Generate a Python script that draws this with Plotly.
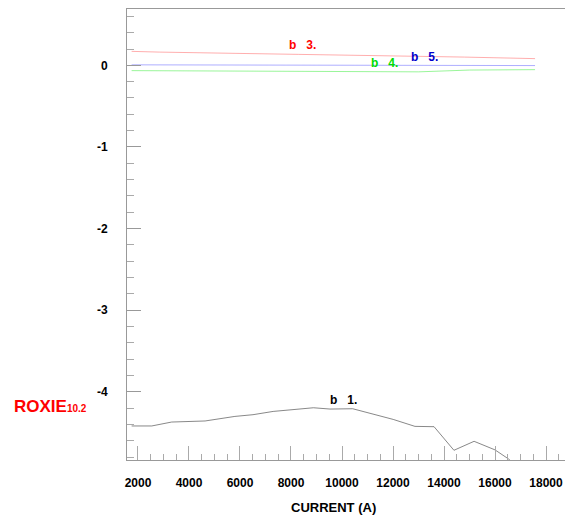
import plotly.graph_objects as go

# b1 curve
b1_x = [1750, 2540, 3320, 4630, 5800, 6510, 7300, 8090, 8880, 9530, 10420, 12010, 12860, 13610, 14390, 15180, 16000, 16520, 17570]
b1_y = [-4.418, -4.418, -4.370, -4.357, -4.301, -4.280, -4.240, -4.220, -4.195, -4.211, -4.207, -4.338, -4.423, -4.427, -4.716, -4.606, -4.711, -4.820, -5.10]

# b3 curve (red)
b3_x = [1750, 2850, 8300, 10900, 13500, 14800, 17570]
b3_y = [0.171, 0.162, 0.134, 0.122, 0.110, 0.101, 0.082]

# b4 curve (green)
b4_x = [1750, 4000, 8000, 11000, 13000, 15000, 17570]
b4_y = [-0.065, -0.068, -0.070, -0.082, -0.080, -0.058, -0.053]

# b5 curve (blue)
b5_x = [1750, 6000, 10000, 14000, 17570]
b5_y = [0.006, 0.004, 0.002, -0.002, -0.003]

labels = ["b\u00a0\u00a0\u00a01.", "b\u00a0\u00a0\u00a03.", "b\u00a0\u00a0\u00a04.", "b\u00a0\u00a0\u00a05."]
label_x = [10040, 8470, 11650, 13220]
label_y = [-4.098, 0.244, 0.033, 0.10]
label_colors = ["#000000", "#ff0000", "#00dd00", "#0000cc"]

y_tickvals = [-4, -3, -2, -1, 0]
y_ticktext = ["-4", "-3", "-2", "-1", "0"]

fig = go.Figure()
fig.add_trace(go.Scatter(x=b1_x, y=b1_y, mode="lines", line=dict(color="#555555", width=0.7)))
fig.add_trace(go.Scatter(x=b3_x, y=b3_y, mode="lines", line=dict(color="#ff7777", width=0.6)))
fig.add_trace(go.Scatter(x=b4_x, y=b4_y, mode="lines", line=dict(color="#55ee55", width=0.6)))
fig.add_trace(go.Scatter(x=b5_x, y=b5_y, mode="lines", line=dict(color="#7777ff", width=0.6)))

for t, x, y, c in zip(labels, label_x, label_y, label_colors):
    fig.add_annotation(x=x, y=y, text="<b>%s</b>" % t, showarrow=False,
                       font=dict(family="Liberation Sans, Arial", size=12, color=c))

fig.add_annotation(xref="paper", yref="paper", x=-0.262, y=0.118, xanchor="left", yanchor="middle",
                   text="<b>ROXIE<span style='font-size:10px'>10.2</span></b>", showarrow=False,
                   font=dict(family="Liberation Sans, Arial", size=17, color="#ff0000"))

fig.add_annotation(xref="paper", yref="paper", x=(333 - 127) / 438, y=-0.105, xanchor="center", yanchor="middle",
                   text="<b>CURRENT (A)</b>", showarrow=False,
                   font=dict(family="Liberation Sans, Arial", size=13, color="black"))

fig.update_layout(
    width=565, height=516,
    margin=dict(l=127, r=0, t=9, b=56),
    paper_bgcolor="white", plot_bgcolor="white",
    showlegend=False,
    font=dict(family="Liberation Sans, Arial", size=12, color="black"),
    xaxis=dict(range=[1569, 18745], showgrid=False, zeroline=False,
               showline=True, linecolor="#999999", linewidth=1, mirror=True,
               ticks="inside", ticklen=14, tickcolor="#aaaaaa", tickwidth=1,
               tick0=0, dtick=2000, tickformat="d", ticklabelstandoff=12,
               tickfont=dict(family="Liberation Sans, Arial", size=12, color="black", weight="bold"),
               minor=dict(ticks="inside", dtick=500, tick0=0, ticklen=6, tickcolor="#aaaaaa")),
    yaxis=dict(range=[-4.835, 0.69], showgrid=False, zeroline=False,
               showline=True, linecolor="#999999", linewidth=1,
               ticks="inside", ticklen=14, tickcolor="#999999", tickwidth=1,
               tickmode="array", tickvals=y_tickvals, ticktext=y_ticktext, ticklabelstandoff=16,
               tickfont=dict(family="Liberation Sans, Arial", size=12, color="black", weight="bold"),
               minor=dict(ticks="inside", dtick=0.2, tick0=0, ticklen=7, tickcolor="#aaaaaa")),
)

fig.write_html("out.html")
